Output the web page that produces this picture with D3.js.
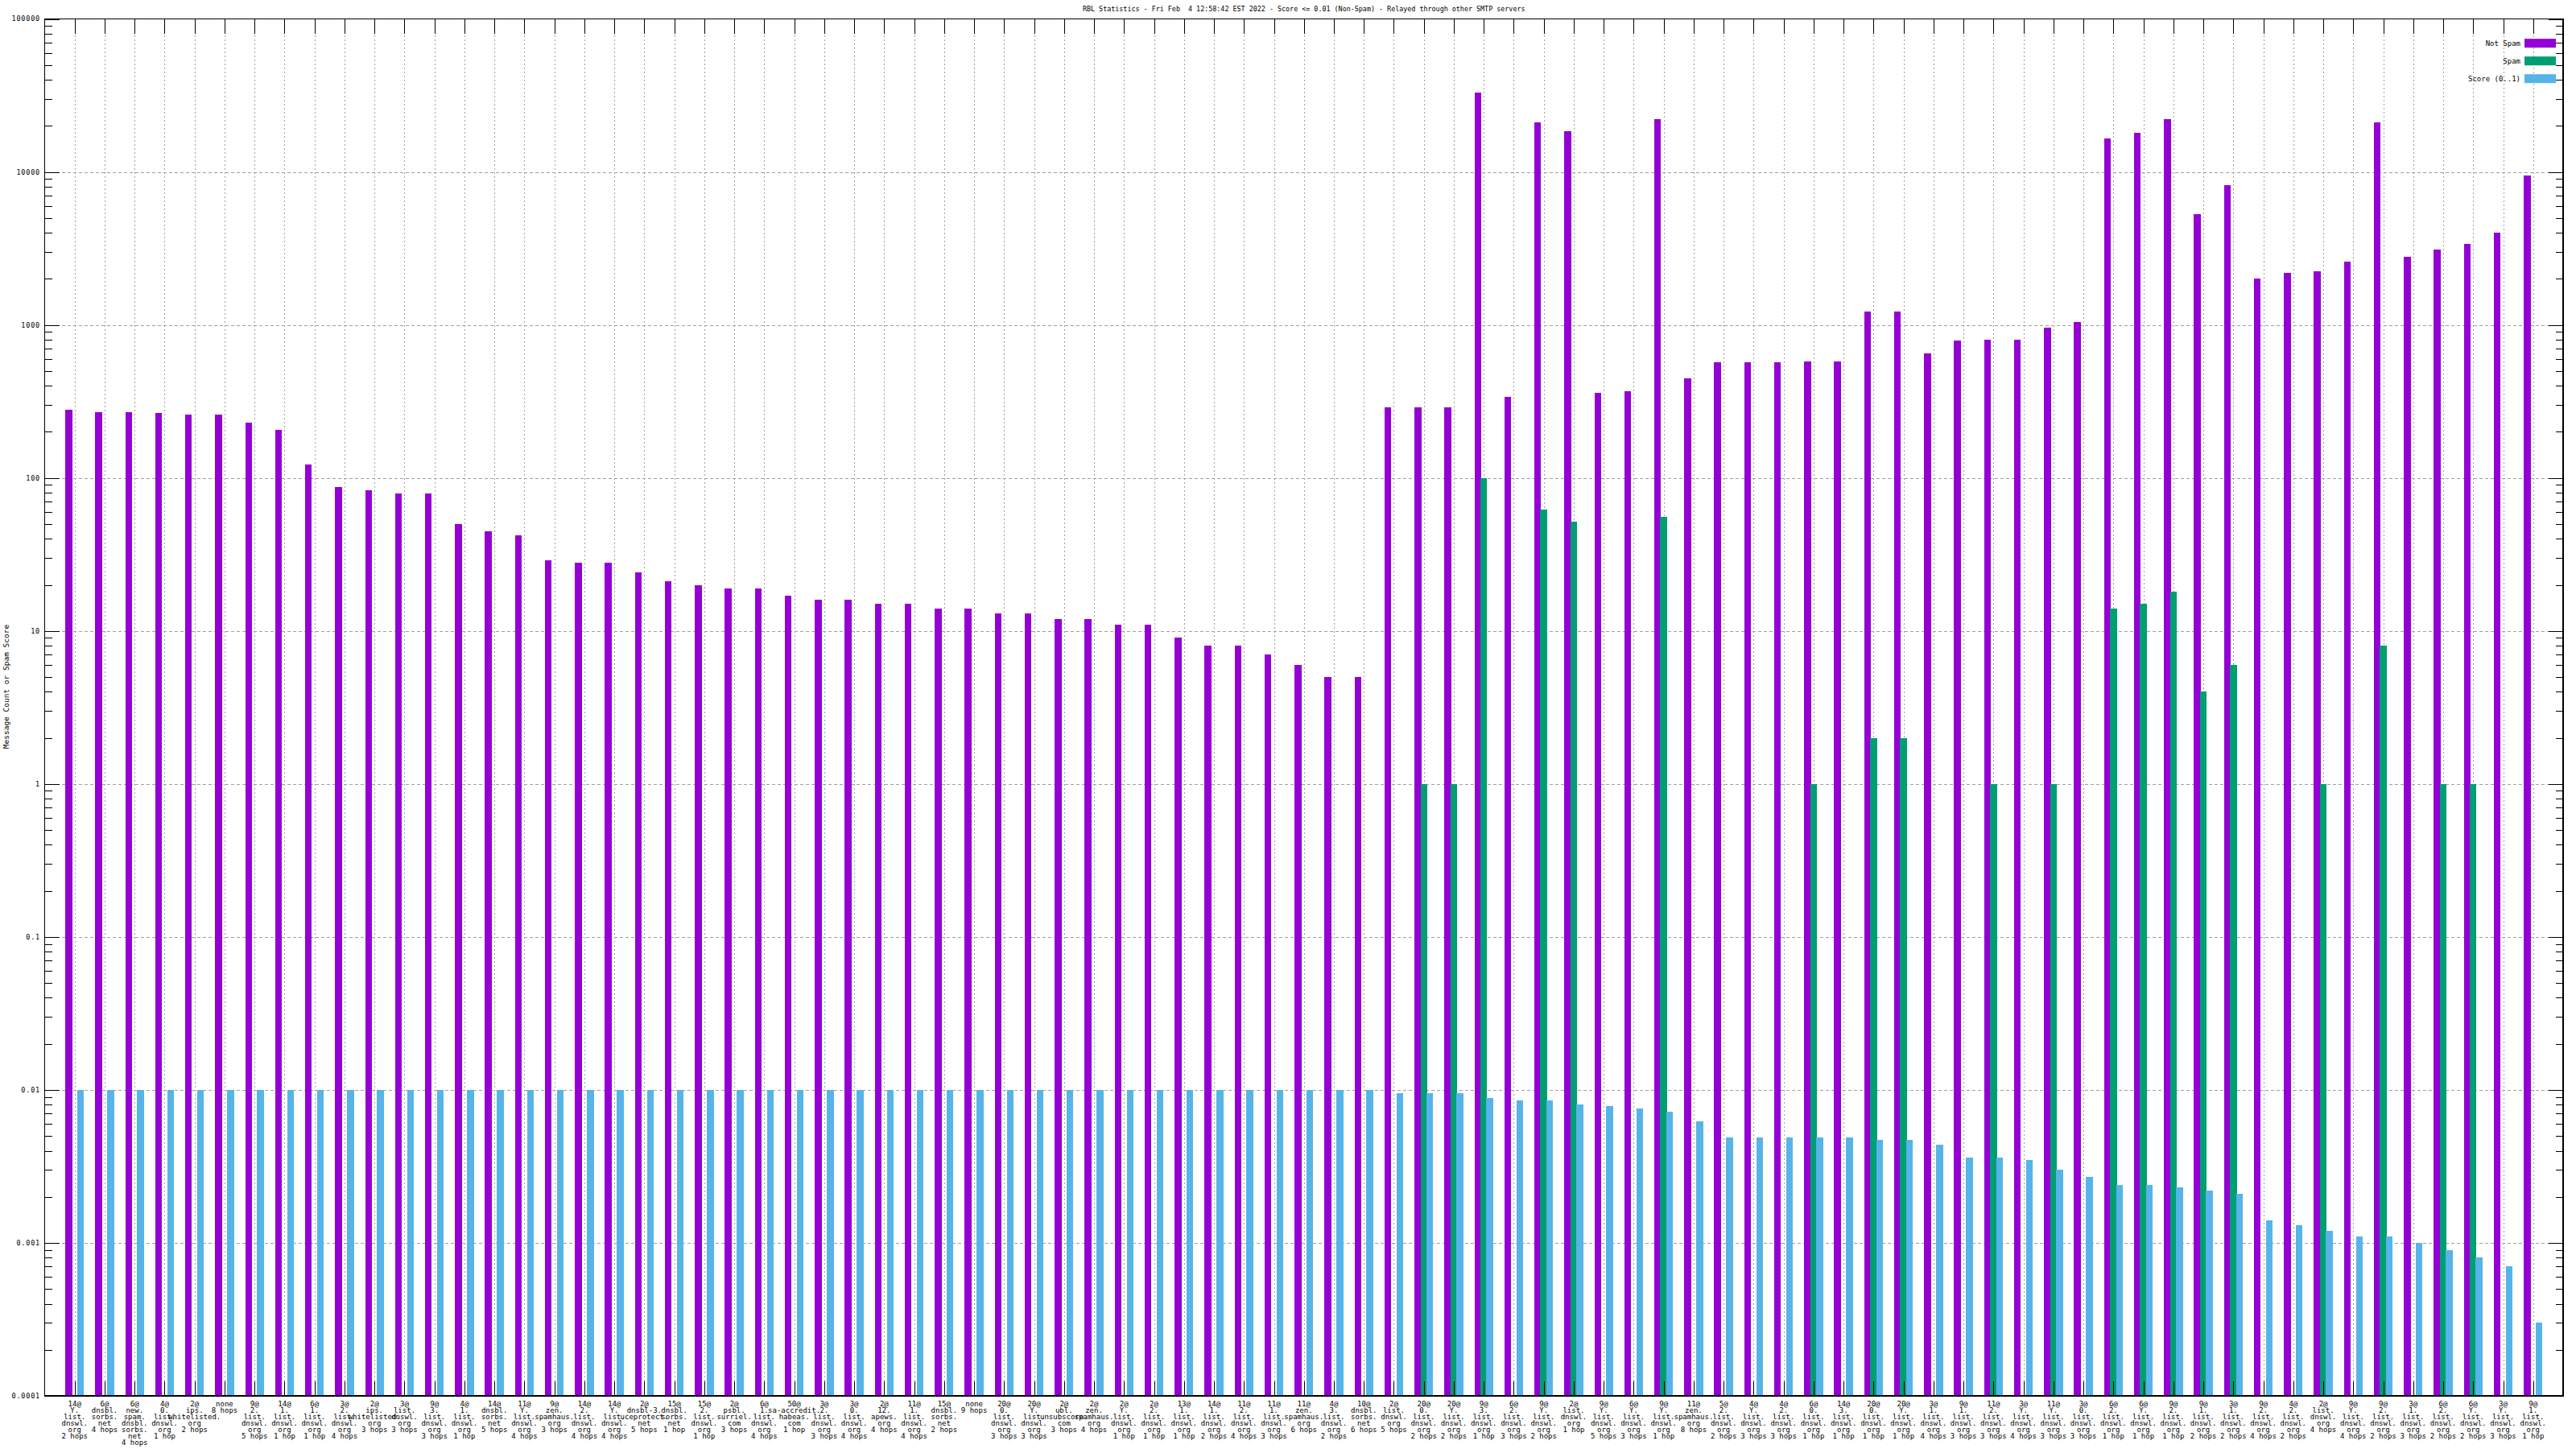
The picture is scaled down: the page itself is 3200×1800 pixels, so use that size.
<!DOCTYPE html>
<html><head><meta charset="utf-8">
<script src="https://cdn.jsdelivr.net/npm/d3@7/dist/d3.min.js"></script>
<style>body{margin:0;background:#fff}text{font-family:"DejaVu Sans Mono",monospace;fill:#000}</style>
</head><body>
<svg id="chart" width="3200" height="1800" xmlns="http://www.w3.org/2000/svg"></svg>
<script>
const title = "RBL Statistics - Fri Feb  4 12:58:42 EST 2022 - Score <= 0.01 (Non-Spam) - Relayed through other SMTP servers";
const yLabel = "Message Count or Spam Score";
const seriesNames = ["Not Spam", "Spam", "Score (0..1)"];
const seriesColors = ["#9400d3", "#009e73", "#56b4e9"];
const yTickValues = [1e-4, 1e-3, 1e-2, 1e-1, 1, 10, 100, 1000, 10000, 100000];
const yTickLabels = ["0.0001", "0.001", "0.01", "0.1", "1", "10", "100", "1000", "10000", "100000"];

const categories = [
"14@\nY.\nlist.\ndnswl.\norg\n2 hops","6@\ndnsbl.\nsorbs.\nnet\n4 hops","6@\nnew.\nspam.\ndnsbl.\nsorbs.\nnet\n4 hops","4@\n0.\nlist.\ndnswl.\norg\n1 hop","2@\nips.\nwhitelisted.\norg\n2 hops","none\n8 hops","9@\n2.\nlist.\ndnswl.\norg\n5 hops","14@\n1.\nlist.\ndnswl.\norg\n1 hop","6@\n1.\nlist.\ndnswl.\norg\n1 hop","3@\n2.\nlist.\ndnswl.\norg\n4 hops",
"2@\nips.\nwhitelisted.\norg\n3 hops","3@\nlist.\ndnswl.\norg\n3 hops","9@\n3.\nlist.\ndnswl.\norg\n3 hops","4@\n1.\nlist.\ndnswl.\norg\n1 hop","14@\ndnsbl.\nsorbs.\nnet\n5 hops","11@\nY.\nlist.\ndnswl.\norg\n4 hops","9@\nzen.\nspamhaus.\norg\n3 hops","14@\n2.\nlist.\ndnswl.\norg\n4 hops","14@\nY.\nlist.\ndnswl.\norg\n4 hops","2@\ndnsbl-3.\nuceprotect.\nnet\n5 hops",
"15@\ndnsbl.\nsorbs.\nnet\n1 hop","15@\n2.\nlist.\ndnswl.\norg\n1 hop","2@\npsbl.\nsurriel.\ncom\n3 hops","6@\n1.\nlist.\ndnswl.\norg\n4 hops","50@\nsa-accredit.\nhabeas.\ncom\n1 hop","3@\n2.\nlist.\ndnswl.\norg\n3 hops","3@\n0.\nlist.\ndnswl.\norg\n4 hops","2@\n12.\napews.\norg\n4 hops","11@\n1.\nlist.\ndnswl.\norg\n4 hops","15@\ndnsbl.\nsorbs.\nnet\n2 hops",
"none\n9 hops","20@\n0.\nlist.\ndnswl.\norg\n3 hops","20@\nY.\nlist.\ndnswl.\norg\n3 hops","2@\nubl.\nunsubscore.\ncom\n3 hops","2@\nzen.\nspamhaus.\norg\n4 hops","2@\nY.\nlist.\ndnswl.\norg\n1 hop","2@\n2.\nlist.\ndnswl.\norg\n1 hop","13@\n1.\nlist.\ndnswl.\norg\n1 hop","14@\n1.\nlist.\ndnswl.\norg\n2 hops","11@\n2.\nlist.\ndnswl.\norg\n4 hops",
"11@\n1.\nlist.\ndnswl.\norg\n3 hops","11@\nzen.\nspamhaus.\norg\n6 hops","4@\n3.\nlist.\ndnswl.\norg\n2 hops","10@\ndnsbl.\nsorbs.\nnet\n6 hops","2@\nlist.\ndnswl.\norg\n5 hops","20@\n0.\nlist.\ndnswl.\norg\n2 hops","20@\nY.\nlist.\ndnswl.\norg\n2 hops","9@\n3.\nlist.\ndnswl.\norg\n1 hop","6@\n2.\nlist.\ndnswl.\norg\n3 hops","9@\nY.\nlist.\ndnswl.\norg\n2 hops",
"2@\nlist.\ndnswl.\norg\n1 hop","9@\nY.\nlist.\ndnswl.\norg\n5 hops","6@\nY.\nlist.\ndnswl.\norg\n3 hops","9@\nY.\nlist.\ndnswl.\norg\n1 hop","11@\nzen.\nspamhaus.\norg\n8 hops","5@\n2.\nlist.\ndnswl.\norg\n2 hops","4@\nY.\nlist.\ndnswl.\norg\n3 hops","4@\n2.\nlist.\ndnswl.\norg\n3 hops","6@\n0.\nlist.\ndnswl.\norg\n1 hop","14@\n3.\nlist.\ndnswl.\norg\n1 hop",
"20@\n0.\nlist.\ndnswl.\norg\n1 hop","20@\nY.\nlist.\ndnswl.\norg\n1 hop","3@\n1.\nlist.\ndnswl.\norg\n4 hops","9@\n1.\nlist.\ndnswl.\norg\n3 hops","11@\n2.\nlist.\ndnswl.\norg\n3 hops","3@\nY.\nlist.\ndnswl.\norg\n4 hops","11@\nY.\nlist.\ndnswl.\norg\n3 hops","3@\n0.\nlist.\ndnswl.\norg\n3 hops","6@\n2.\nlist.\ndnswl.\norg\n1 hop","6@\nY.\nlist.\ndnswl.\norg\n1 hop",
"9@\n2.\nlist.\ndnswl.\norg\n1 hop","9@\n1.\nlist.\ndnswl.\norg\n2 hops","3@\n1.\nlist.\ndnswl.\norg\n2 hops","9@\n2.\nlist.\ndnswl.\norg\n4 hops","4@\n2.\nlist.\ndnswl.\norg\n2 hops","2@\nlist.\ndnswl.\norg\n4 hops","9@\nY.\nlist.\ndnswl.\norg\n4 hops","9@\n2.\nlist.\ndnswl.\norg\n2 hops","3@\n1.\nlist.\ndnswl.\norg\n3 hops","6@\n2.\nlist.\ndnswl.\norg\n2 hops",
"6@\nY.\nlist.\ndnswl.\norg\n2 hops","3@\nY.\nlist.\ndnswl.\norg\n3 hops","9@\n1.\nlist.\ndnswl.\norg\n1 hop"
];

const notSpam = [
280,270,270,265,260,260,230,205,123,87,
83,79,79,50,45,42,29,28,28,24,
21,20,19,19,17,16,16,15,15,14,
14,13,13,12,12,11,11,9,8,8,
7,6,5,5,290,290,290,33000,340,21000,
18500,360,370,22000,450,570,570,570,580,580,
1230,1230,650,790,800,800,960,1050,16500,18000,
22000,5300,8200,2000,2200,2250,2600,21000,2800,3100,
3400,4000,9500
];

const spam = [
null,null,null,null,null,null,null,null,null,null,
null,null,null,null,null,null,null,null,null,null,
null,null,null,null,null,null,null,null,null,null,
null,null,null,null,null,null,null,null,null,null,
null,null,null,null,null,1,1,100,null,62,
52,null,null,56,null,null,null,null,1,null,
2,2,null,null,1,null,1,null,14,15,
18,4,6,null,null,1,null,8,null,1,
1,null,null
];

const score = [
0.01,0.01,0.01,0.01,0.01,0.01,0.01,0.01,0.01,0.01,
0.01,0.01,0.01,0.01,0.01,0.01,0.01,0.01,0.01,0.01,
0.01,0.01,0.01,0.01,0.01,0.01,0.01,0.01,0.01,0.01,
0.01,0.01,0.01,0.01,0.01,0.01,0.01,0.01,0.01,0.01,
0.01,0.01,0.01,0.01,0.0095,0.0095,0.0095,0.0088,0.0085,0.0085,
0.008,0.0078,0.0076,0.0072,0.0062,0.0049,0.0049,0.0049,0.0049,0.0049,
0.0047,0.0047,0.0044,0.0036,0.0036,0.0035,0.003,0.0027,0.0024,0.0024,
0.0023,0.0022,0.0021,0.0014,0.0013,0.0012,0.0011,0.0011,0.001,0.0009,
0.0008,0.0007,0.0003
];

const svg = d3.select("#chart");
const W = 3200, H = 1800;
svg.append("rect").attr("width", W).attr("height", H).attr("fill", "#fff");

const L = 55.5, R = 3184, T = 23.5, B = 1734;
const x = d3.scaleLinear().domain([-1, categories.length]).range([L, R]);
const y = d3.scaleLog().domain([1e-4, 1e5]).range([B, T]);
const slot = 0.2;

// grid
const grid = svg.append("g").attr("shape-rendering", "crispEdges");
grid.selectAll("line.hg").data(yTickValues.slice(1, -1)).join("line")
  .attr("x1", L).attr("x2", R).attr("y1", d => Math.round(y(d)) + 0.5).attr("y2", d => Math.round(y(d)) + 0.5)
  .attr("stroke", "#a0a0a0").attr("stroke-width", 1).attr("stroke-dasharray", "4,3");
grid.selectAll("line.vg").data(d3.range(categories.length)).join("line")
  .attr("x1", d => Math.round(x(d)) + 0.5).attr("x2", d => Math.round(x(d)) + 0.5).attr("y1", T).attr("y2", B)
  .attr("stroke", "#a0a0a0").attr("stroke-width", 1).attr("stroke-dasharray", "2,3");

// bars
const series = [notSpam, spam, score];
series.forEach((vals, s) => {
  svg.append("g").attr("shape-rendering", "crispEdges")
    .selectAll("rect").data(vals.map((v, i) => ({v, i})).filter(d => d.v != null && d.v > 0)).join("rect")
    .attr("x", d => x(d.i + (s - 1) * slot - slot / 2) - 0.5)
    .attr("width", x(slot) - x(0) + 1)
    .attr("y", d => y(d.v))
    .attr("height", d => B - y(d.v))
    .attr("fill", seriesColors[s]);
});

// axes ticks
const axes = svg.append("g").attr("shape-rendering", "crispEdges").attr("stroke", "#000").attr("stroke-width", 1);
const major = 18.5, minor = 9.3;
yTickValues.forEach(v => {
  const yy = Math.round(y(v)) + 0.5;
  axes.append("line").attr("x1", L).attr("x2", L + major).attr("y1", yy).attr("y2", yy);
  axes.append("line").attr("x1", R - major).attr("x2", R).attr("y1", yy).attr("y2", yy);
});
yTickValues.slice(0, -1).forEach(v => {
  for (let m = 2; m <= 9; m++) {
    const yy = Math.round(y(v * m)) + 0.5;
    axes.append("line").attr("x1", L).attr("x2", L + minor).attr("y1", yy).attr("y2", yy);
    axes.append("line").attr("x1", R - minor).attr("x2", R).attr("y1", yy).attr("y2", yy);
  }
});
d3.range(categories.length).forEach(i => {
  const xx = Math.round(x(i)) + 0.5;
  axes.append("line").attr("x1", xx).attr("x2", xx).attr("y1", B).attr("y2", B - major);
  axes.append("line").attr("x1", xx).attr("x2", xx).attr("y1", T).attr("y2", T + major);
});
axes.append("rect").attr("x", L).attr("y", T).attr("width", R - L).attr("height", B - T)
  .attr("fill", "none").attr("stroke-width", 1.5);

// y tick labels
svg.append("g").selectAll("text").data(yTickValues).join("text")
  .attr("x", 50).attr("y", d => y(d)).attr("dy", "0.35em")
  .attr("text-anchor", "end").attr("font-size", 8.5).attr("letter-spacing", 0.8)
  .text((d, i) => yTickLabels[i]);

// x tick labels
const xl = svg.append("g");
categories.forEach((c, i) => {
  const t = xl.append("text").attr("x", x(i)).attr("y", 1746).attr("text-anchor", "middle").attr("font-size", 9);
  c.split("\n").forEach((line, j) => {
    t.append("tspan").attr("x", x(i)).attr("y", 1746.5 + j * 8).text(line);
  });
});

// title
svg.append("text").attr("x", (L + R) / 2).attr("y", 14).attr("text-anchor", "middle")
  .attr("font-size", 8.4).attr("xml:space", "preserve").style("white-space", "pre").text(title);

// y label
svg.append("text").attr("transform", `translate(11,853) rotate(-90)`)
  .attr("text-anchor", "middle").attr("font-size", 9.5).text(yLabel);

// legend
const lg = svg.append("g");
seriesNames.forEach((n, i) => {
  const cy = 53.7 + i * 22;
  lg.append("rect").attr("x", 3136).attr("y", cy - 5.5).attr("width", 39).attr("height", 11).attr("fill", seriesColors[i]);
  lg.append("text").attr("x", 3131).attr("y", cy).attr("dy", "0.35em").attr("text-anchor", "end").attr("font-size", 9).text(n);
});
</script>
</body></html>
